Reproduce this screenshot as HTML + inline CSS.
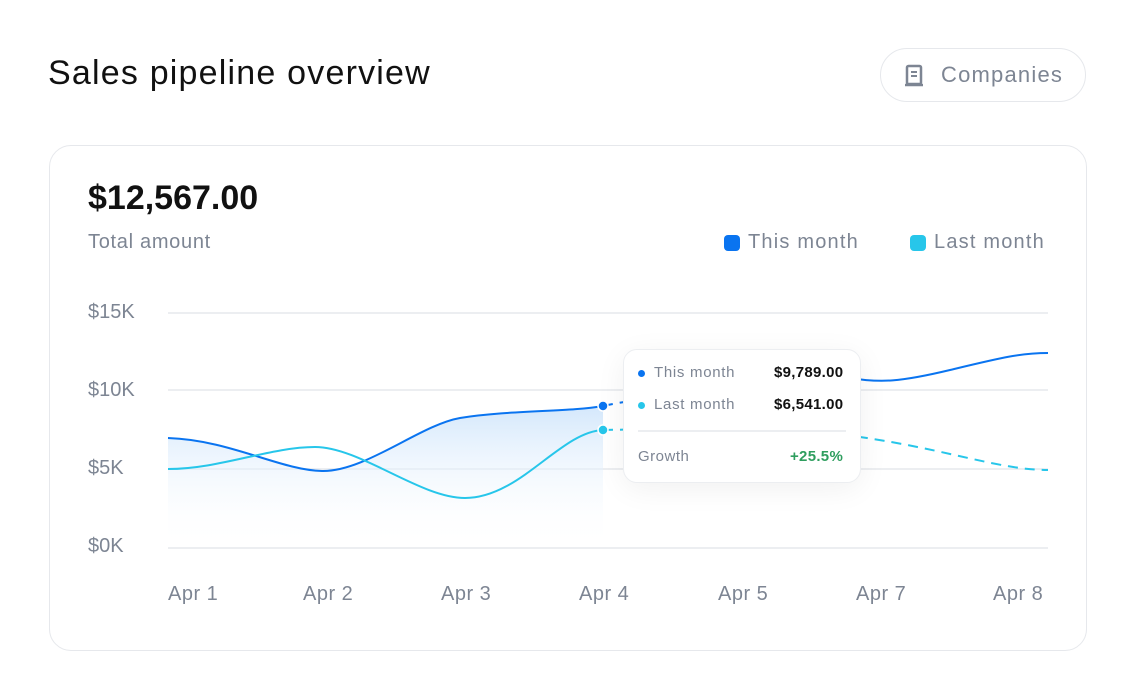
<!DOCTYPE html>
<html><head><meta charset="utf-8"><style>
body{margin:0;width:1136px;height:700px;background:#fff;font-family:"Liberation Sans",sans-serif;position:relative;overflow:hidden}
.t{position:absolute;white-space:nowrap}
</style></head><body>
<div class="t" style="left:48px;top:54px;font-size:34px;color:#111;letter-spacing:1.2px">Sales pipeline overview</div>
<div style="position:absolute;left:880px;top:48px;width:206px;height:54px;border:1.5px solid #e6e8ec;border-radius:28px;box-sizing:border-box"></div>
<svg style="position:absolute;left:904px;top:64px" width="22" height="24"><rect x="3" y="2" width="14" height="18" rx="1.5" fill="none" stroke="#7d8593" stroke-width="2.5"/><line x1="7" y1="8" x2="13" y2="8" stroke="#7d8593" stroke-width="2"/><line x1="7" y1="12" x2="13" y2="12" stroke="#7d8593" stroke-width="2"/><line x1="1" y1="21" x2="19" y2="21" stroke="#7d8593" stroke-width="2.5"/></svg>
<div class="t" style="left:941px;top:62px;font-size:22px;color:#7d8593;letter-spacing:1.2px">Companies</div>
<div style="position:absolute;left:49px;top:145px;width:1038px;height:506px;border:1.5px solid #e6e8ec;border-radius:22px;box-sizing:border-box"></div>
<div class="t" style="left:88px;top:179px;font-size:34px;font-weight:bold;color:#111">$12,567.00</div>
<div class="t" style="left:88px;top:231px;font-size:20px;color:#7d8593;letter-spacing:0.7px">Total amount</div>
<div style="position:absolute;left:724px;top:235px;width:16px;height:16px;border-radius:4px;background:#0a74f0"></div>
<div class="t" style="left:748px;top:231px;font-size:20px;color:#7d8593;letter-spacing:1.2px">This month</div>
<div style="position:absolute;left:910px;top:235px;width:16px;height:16px;border-radius:4px;background:#27c6ea"></div>
<div class="t" style="left:934px;top:231px;font-size:20px;color:#7d8593;letter-spacing:1.2px">Last month</div>
<div class="t" style="left:88px;top:301px;font-size:20px;color:#7d8593">$15K</div>
<div class="t" style="left:88px;top:379px;font-size:20px;color:#7d8593">$10K</div>
<div class="t" style="left:88px;top:457px;font-size:20px;color:#7d8593">$5K</div>
<div class="t" style="left:88px;top:535px;font-size:20px;color:#7d8593">$0K</div>
<svg style="position:absolute;left:0;top:0" width="1136" height="700">
<defs><linearGradient id="g" x1="0" y1="0" x2="0" y2="1"><stop offset="0" stop-color="#cfe5fb" stop-opacity=".9"/><stop offset="1" stop-color="#ffffff" stop-opacity="0"/></linearGradient>
<linearGradient id="v" x1="0" y1="0" x2="0" y2="1"><stop offset="0" stop-color="#333" stop-opacity=".2"/><stop offset=".4" stop-color="#111"/><stop offset="1" stop-color="#333" stop-opacity=".2"/></linearGradient></defs>
<g stroke="#eceef1" stroke-width="2"><line x1="168" y1="313" x2="1048" y2="313"/><line x1="168" y1="390" x2="1048" y2="390"/><line x1="168" y1="469" x2="1048" y2="469"/><line x1="168" y1="548" x2="1048" y2="548"/></g>
<path d="M168,438 C230,440 280,470 322,471 C365,472 420,425 460,418 C510,410 570,412 603,406 L603,548 L168,548Z" fill="url(#g)"/>
<path d="M168,438 C230,440 280,470 322,471 C365,472 420,425 460,418 C510,410 570,412 603,406" fill="none" stroke="#0a74f0" stroke-width="2"/>
<path d="M603,406 C640,398 680,395 720,390" fill="none" stroke="#0a74f0" stroke-width="2" stroke-dasharray="10 7"/>
<path d="M850,378 C880,383 900,382 950,370 C1000,358 1020,353 1048,353" fill="none" stroke="#0a74f0" stroke-width="2"/>
<path d="M168,469 C220,469 270,447 315,447 C360,447 420,498 465,498 C520,498 560,432 603,430" fill="none" stroke="#27c6ea" stroke-width="2"/>
<path d="M603,430 C700,428 800,430 860,437 C950,450 1000,470 1048,470" fill="none" stroke="#27c6ea" stroke-width="2" stroke-dasharray="10 7"/>
<line x1="603" y1="290" x2="603" y2="548" stroke="url(#v)" stroke-width="2"/>
<circle cx="603" cy="406" r="5" fill="#0a74f0" stroke="#fff" stroke-width="1.5"/>
<circle cx="603" cy="430" r="5" fill="#27c6ea" stroke="#fff" stroke-width="1.5"/>
</svg>
<div style="position:absolute;left:623px;top:349px;width:238px;height:134px;background:#fff;border:1.5px solid #eceef1;border-radius:14px;box-sizing:border-box;box-shadow:0 6px 30px rgba(0,0,0,.06)"></div>
<div style="position:absolute;left:638px;top:370px;width:7px;height:7px;border-radius:50%;background:#0a74f0"></div>
<div class="t" style="left:654px;top:364px;font-size:15px;color:#7d8593;letter-spacing:0.7px">This month</div>
<div class="t" style="left:774px;top:364px;font-size:15px;font-weight:bold;color:#111;letter-spacing:0.3px">$9,789.00</div>
<div style="position:absolute;left:638px;top:402px;width:7px;height:7px;border-radius:50%;background:#27c6ea"></div>
<div class="t" style="left:654px;top:396px;font-size:15px;color:#7d8593;letter-spacing:0.7px">Last month</div>
<div class="t" style="left:774px;top:396px;font-size:15px;font-weight:bold;color:#111;letter-spacing:0.3px">$6,541.00</div>
<div style="position:absolute;left:638px;top:430px;width:208px;height:2px;background:#eceef1"></div>
<div class="t" style="left:638px;top:448px;font-size:15px;color:#7d8593;letter-spacing:0.5px">Growth</div>
<div class="t" style="left:790px;top:448px;font-size:15px;font-weight:bold;color:#2f9e5f;letter-spacing:0.3px">+25.5%</div>
<div class="t" style="left:168px;top:583px;font-size:20px;color:#7d8593;letter-spacing:0.5px">Apr 1</div>
<div class="t" style="left:303px;top:583px;font-size:20px;color:#7d8593;letter-spacing:0.5px">Apr 2</div>
<div class="t" style="left:441px;top:583px;font-size:20px;color:#7d8593;letter-spacing:0.5px">Apr 3</div>
<div class="t" style="left:579px;top:583px;font-size:20px;color:#7d8593;letter-spacing:0.5px">Apr 4</div>
<div class="t" style="left:718px;top:583px;font-size:20px;color:#7d8593;letter-spacing:0.5px">Apr 5</div>
<div class="t" style="left:856px;top:583px;font-size:20px;color:#7d8593;letter-spacing:0.5px">Apr 7</div>
<div class="t" style="left:993px;top:583px;font-size:20px;color:#7d8593;letter-spacing:0.5px">Apr 8</div>
</body></html>
